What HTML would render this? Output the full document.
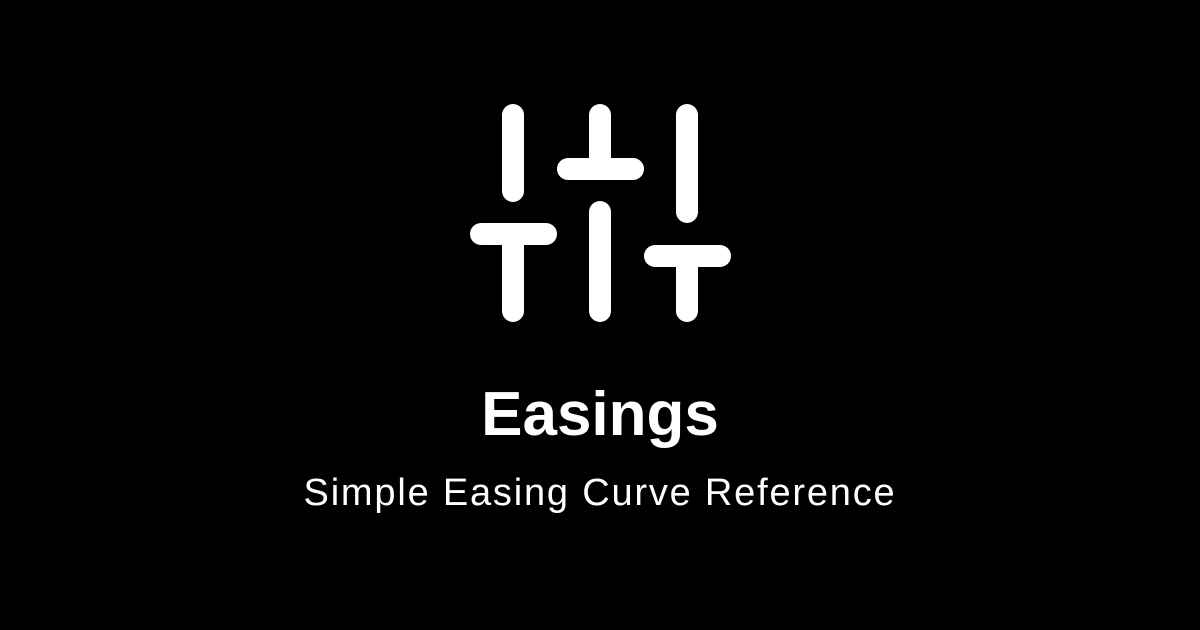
<!DOCTYPE html>
<html><head><meta charset="utf-8"><style>
html,body{margin:0;padding:0;background:#000;}
#root{position:relative;width:1200px;height:630px;background:#000;overflow:hidden;font-family:"Liberation Sans",sans-serif;color:#fff;}
#title{position:absolute;left:0;width:1200px;top:380px;text-align:center;font-weight:bold;font-size:62px;line-height:70px;}
#sub{position:absolute;left:0;width:1200px;top:470px;text-align:center;font-size:38px;line-height:46px;letter-spacing:1.8px;}
</style></head><body>
<div id="root">
<svg width="1200" height="630" style="position:absolute;left:0;top:0">
<g stroke="#fff" stroke-width="22" stroke-linecap="round" fill="none">
<line x1="513" y1="115" x2="513" y2="191"/>
<line x1="481" y1="234" x2="546" y2="234"/>
<line x1="513" y1="234" x2="513" y2="311"/>
<line x1="600" y1="115" x2="600" y2="169"/>
<line x1="568" y1="169" x2="633" y2="169"/>
<line x1="600" y1="212" x2="600" y2="311"/>
<line x1="687" y1="115" x2="687" y2="212"/>
<line x1="655" y1="256" x2="720" y2="256"/>
<line x1="687" y1="256" x2="687" y2="311"/>
</g></svg>
<div id="title">Easings</div>
<div id="sub">Simple Easing Curve Reference</div>
</div>
</body></html>
